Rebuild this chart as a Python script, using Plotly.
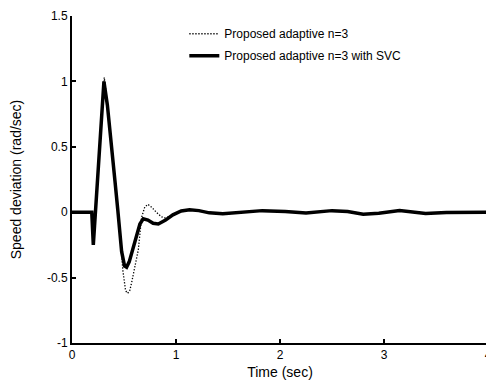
import plotly.graph_objects as go

# Time (sec) and speed deviation (rad/sec)
t_svc = [0, 0.19, 0.205, 0.307, 0.34, 0.365, 0.39, 0.413, 0.44, 0.477, 0.505, 0.525,
         0.55, 0.586, 0.62, 0.653, 0.685, 0.73, 0.78, 0.83, 0.90, 0.97, 1.05, 1.13,
         1.22, 1.32, 1.45, 1.6, 1.83, 2.05, 2.25, 2.5, 2.65, 2.8, 2.95, 3.15, 3.25,
         3.4, 3.6, 4.0]
v_svc = [0, 0, -0.25, 1.0, 0.82, 0.6, 0.42, 0.24, 0.02, -0.3, -0.41, -0.42,
         -0.38, -0.28, -0.17, -0.09, -0.05, -0.06, -0.085, -0.09, -0.06, -0.02, 0.01, 0.018,
         0.012, -0.005, -0.012, -0.005, 0.012, 0.005, -0.006, 0.012, 0.005, -0.015, -0.008, 0.012, 0.002,
         -0.01, -0.002, 0]

t_n3 = [0, 0.19, 0.205, 0.31, 0.345, 0.37, 0.395, 0.42, 0.45, 0.49, 0.515, 0.535,
        0.555, 0.573, 0.605, 0.637, 0.669, 0.7, 0.73, 0.77, 0.81, 0.86, 0.9, 0.95,
        1.03, 1.13, 1.22, 1.32, 1.45, 1.6, 1.83, 2.05, 2.25, 2.5, 2.65, 2.8, 2.95,
        3.15, 3.25, 3.4, 3.6, 4.0]
v_n3 = [0, 0, -0.25, 1.03, 0.8, 0.6, 0.42, 0.22, -0.05, -0.45, -0.6, -0.62,
        -0.6, -0.54, -0.42, -0.29, -0.04, 0.04, 0.06, 0.035, 0.0, -0.035, -0.045, -0.03,
        0.0, 0.02, 0.012, -0.004, -0.012, -0.005, 0.012, 0.005, -0.006, 0.012, 0.005, -0.014, -0.008,
        0.012, 0.002, -0.01, -0.002, 0]

x_ticks = [0, 1, 2, 3, 4]
y_ticks = [-1, -0.5, 0, 0.5, 1, 1.5]
y_tick_labels = ["-1", "-0.5", "0", "0.5", "1", "1.5"]

fig = go.Figure()
fig.add_trace(go.Scatter(x=t_n3, y=v_n3, mode="lines", name="Proposed adaptive n=3",
                         legendgroup="a",
                         line=dict(color="black", width=1.3, dash="1.3px,1.7px")))
fig.add_trace(go.Scatter(x=t_svc, y=v_svc, mode="lines", name="Proposed adaptive n=3 with SVC",
                         legendgroup="b",
                         line=dict(color="black", width=3.5)))

font = dict(family="Liberation Sans, Arial, sans-serif", size=12, color="black")
# page body has an 8px default margin, so the figure is sized/offset to compensate
fig.update_layout(
    width=486, height=382,
    margin=dict(l=64, r=6, t=8, b=47, autoexpand=False),
    paper_bgcolor="white", plot_bgcolor="white",
    font=font,
    showlegend=True,
    legend=dict(x=0.27, y=0.99, xanchor="left", yanchor="top",
                bgcolor="rgba(0,0,0,0)", borderwidth=0, font=font,
                tracegroupgap=3, itemwidth=30),
)
fig.update_xaxes(range=[0, 4], tickvals=x_ticks, ticks="inside", ticklen=4, tickwidth=1.5,
                 tickcolor="black", showline=True, linecolor="black", linewidth=2,
                 showgrid=False, zeroline=False, title=dict(text="Time (sec)", standoff=6),
                 tickfont=font, automargin=False, ticklabeloverflow="allow")
fig.update_yaxes(range=[-1, 1.5], tickvals=y_ticks, ticktext=y_tick_labels, ticks="inside",
                 ticklen=4, tickwidth=1.5, tickcolor="black", showline=True, linecolor="black",
                 linewidth=2, showgrid=False, zeroline=False,
                 title=dict(text="Speed deviation (rad/sec)", standoff=24), tickfont=font,
                 automargin=False, ticklabeloverflow="allow")

fig.write_html("out.html")
